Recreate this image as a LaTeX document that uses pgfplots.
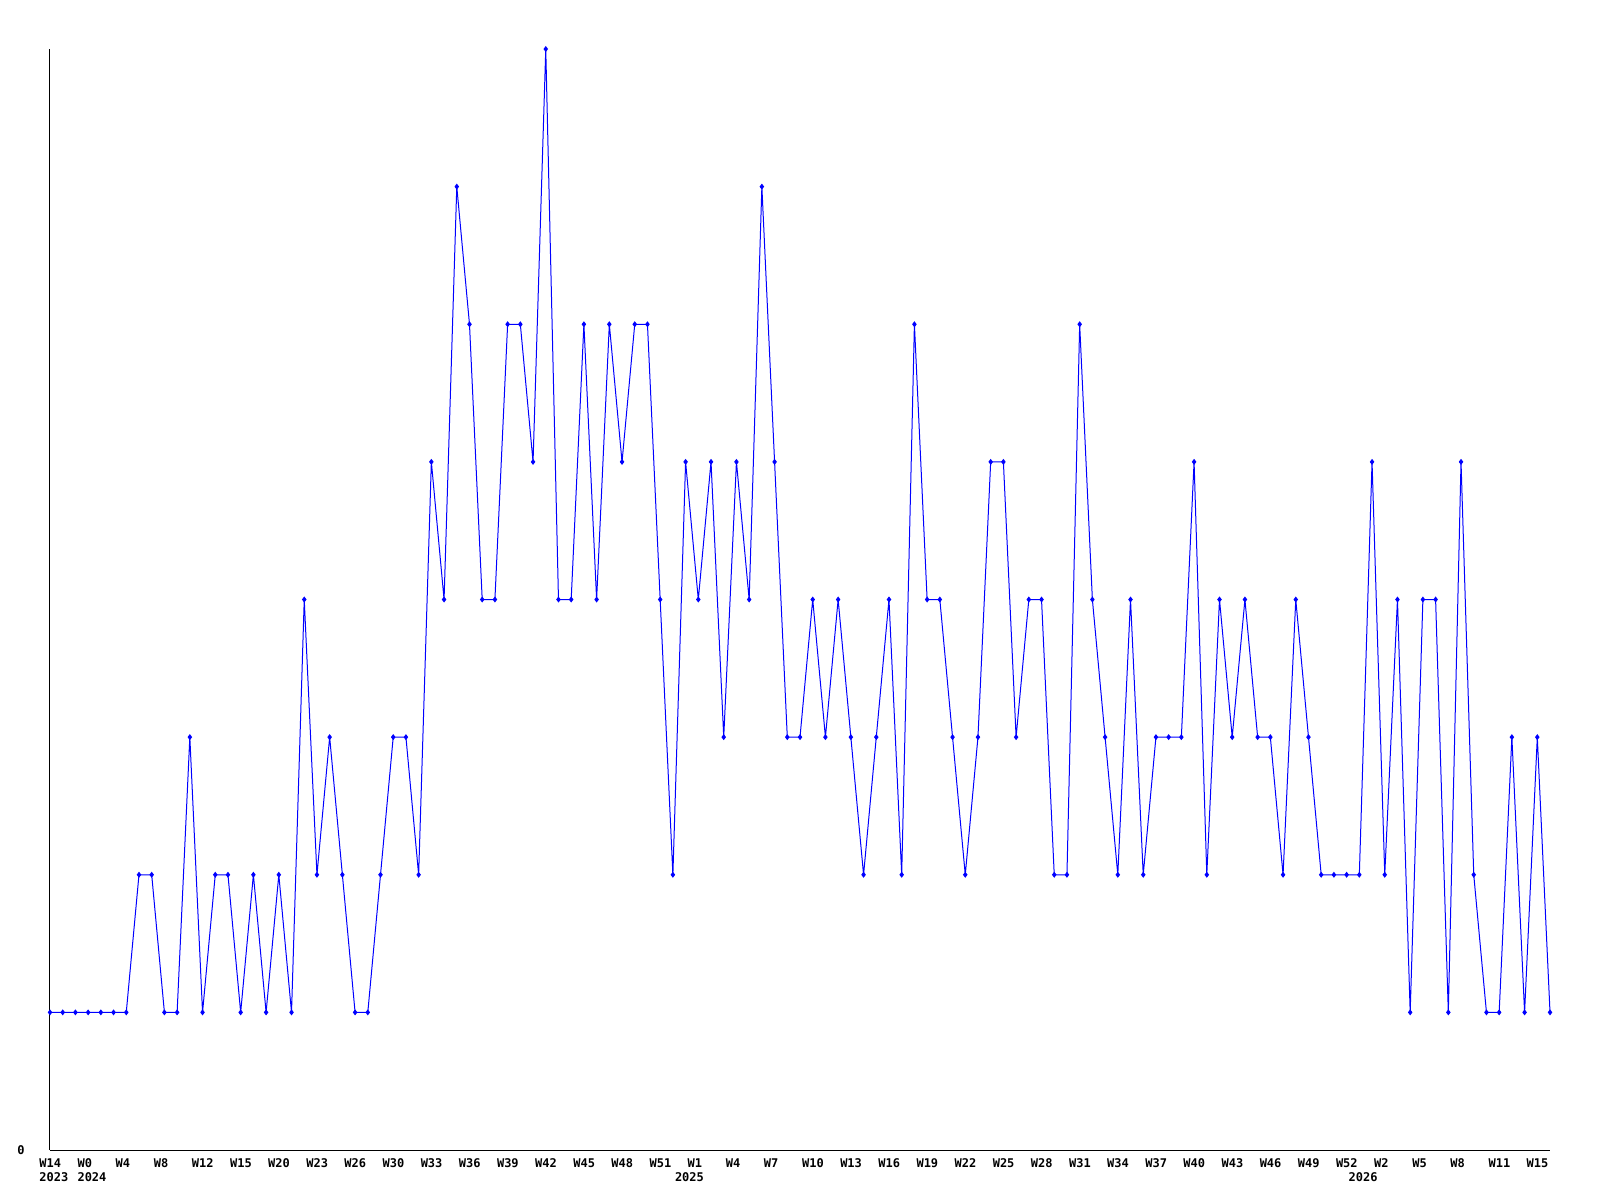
\documentclass[border=0pt]{standalone}
\usepackage{fontspec}
\setmainfont{DejaVu Sans Mono}
\usepackage{pgfplots}
\pgfplotsset{compat=1.18}
\begin{document}
\begin{tikzpicture}
\path[use as bounding box] (0,0) rectangle (800pt,600pt);
\begin{axis}[
  at={(25pt,25pt)}, anchor=south west,
  scale only axis, width=750pt, height=550.5pt,
  xmin=0, xmax=118, ymin=0, ymax=8,
  axis x line*=bottom, axis y line*=left,
  axis line style={black, line width=0.5pt},
  clip=false,
  major tick length=0pt,
  /pgf/number format/assume math mode=true,
  ytick={0}, yticklabels={0},
  yticklabel style={anchor=east, inner sep=0pt, xshift=-12.5pt, font=\fontsize{6}{7}\selectfont\bfseries},
  xtick={0,3,...,117},
  xticklabels={W14,W0,W4,W8,W12,W15,W20,W23,W26,W30,W33,W36,W39,W42,W45,W48,W51,W1,W4,W7,W10,W13,W16,W19,W22,W25,W28,W31,W34,W37,W40,W43,W46,W49,W52,W2,W5,W8,W11,W15},
  xticklabel style={anchor=north west, inner sep=0pt, xshift=-5.5pt, yshift=-4pt, font=\fontsize{6}{7}\selectfont\bfseries},
  extra x ticks={0,3,50,103},
  extra x tick labels={2023,2024,2025,2026},
  extra x tick style={xticklabel style={yshift=-7pt}},
]
\addplot[color={rgb,255:red,0;green,0;blue,255}, line width=0.5pt, mark=diamond*, mark size=1.1pt, mark options={solid}] coordinates {
(0,1)(1,1)(2,1)(3,1)(4,1)(5,1)(6,1)(7,2)(8,2)(9,1)(10,1)(11,3)(12,1)(13,2)(14,2)(15,1)(16,2)(17,1)(18,2)(19,1)(20,4)(21,2)(22,3)(23,2)(24,1)(25,1)(26,2)(27,3)(28,3)(29,2)(30,5)(31,4)(32,7)(33,6)(34,4)(35,4)(36,6)(37,6)(38,5)(39,8)(40,4)(41,4)(42,6)(43,4)(44,6)(45,5)(46,6)(47,6)(48,4)(49,2)(50,5)(51,4)(52,5)(53,3)(54,5)(55,4)(56,7)(57,5)(58,3)(59,3)(60,4)(61,3)(62,4)(63,3)(64,2)(65,3)(66,4)(67,2)(68,6)(69,4)(70,4)(71,3)(72,2)(73,3)(74,5)(75,5)(76,3)(77,4)(78,4)(79,2)(80,2)(81,6)(82,4)(83,3)(84,2)(85,4)(86,2)(87,3)(88,3)(89,3)(90,5)(91,2)(92,4)(93,3)(94,4)(95,3)(96,3)(97,2)(98,4)(99,3)(100,2)(101,2)(102,2)(103,2)(104,5)(105,2)(106,4)(107,1)(108,4)(109,4)(110,1)(111,5)(112,2)(113,1)(114,1)(115,3)(116,1)(117,3)(118,1)
};
\end{axis}
\end{tikzpicture}
\end{document}
